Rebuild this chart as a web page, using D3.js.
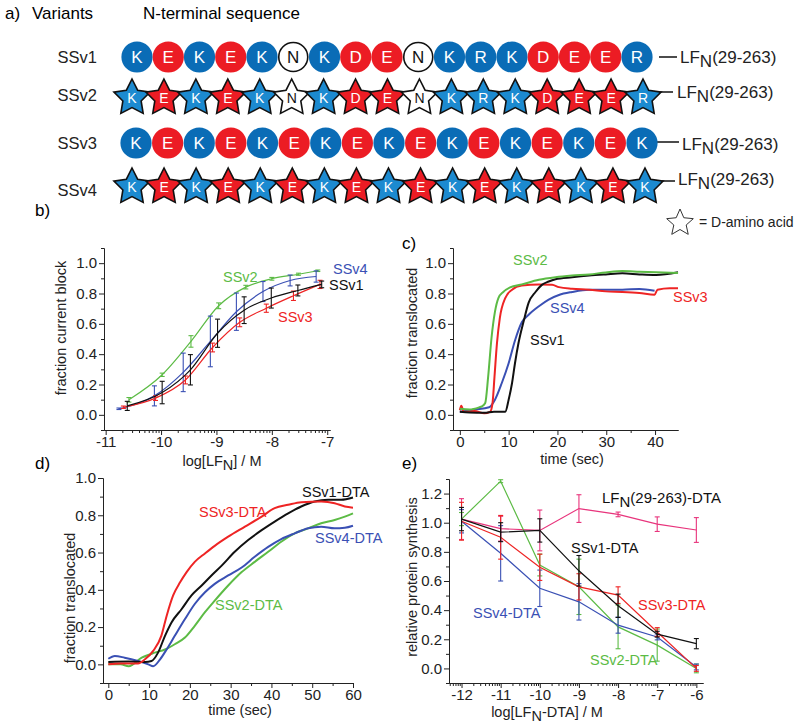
<!DOCTYPE html>
<html>
<head>
<meta charset="utf-8">
<script src="https://cdn.jsdelivr.net/npm/d3@7"></script>
<style>
  body { margin: 0; background: #fff; }
  svg { font-family: "Liberation Sans", Arial, Helvetica, sans-serif; }
</style>
</head>
<body>
<svg id="fig" width="800" height="724"></svg>
<script>
// ---------- panel a: sequences ----------
var seqSSv1 = ["K","E","K","E","K","N","K","D","E","N","K","R","K","D","E","E","R"];
var seqSSv2 = ["K","E","K","E","K","N","K","D","E","N","K","R","K","D","E","E","R"];
var seqSSv3 = ["K","E","K","E","K","E","K","E","K","E","K","E","K","E","K","E","K"];
var seqSSv4 = ["K","E","K","E","K","E","K","E","K","E","K","E","K","E","K","E","K"];
var variantNames = ["SSv1", "SSv2", "SSv3", "SSv4"];

// ---------- panel b: fraction current block vs log[LFN] ----------
var bSSv1X = [-10.61, -9.98, -9.47, -8.98, -8.5, -8.01, -7.53, -7.1];
var bSSv1Y = [0.059, 0.147, 0.297, 0.538, 0.69, 0.77, 0.82, 0.86];
var bSSv1E = [0.03, 0.074, 0.10, 0.093, 0.088, 0.066, 0.036, 0.022];
var bSSv2X = [-10.58, -9.98, -9.46, -8.96, -8.47, -8.0, -7.52, -7.17];
var bSSv2Y = [0.099, 0.264, 0.484, 0.719, 0.842, 0.897, 0.927, 0.95];
var bSSv2E = [0.015, 0.011, 0.038, 0.019, 0.012, 0.009, 0.007, 0.005];
var bSSv3X = [-10.68, -10.1, -9.56, -9.07, -8.58, -8.1, -7.61, -7.13];
var bSSv3Y = [0.05, 0.11, 0.23, 0.444, 0.61, 0.703, 0.785, 0.86];
var bSSv3E = [0.008, 0.015, 0.026, 0.029, 0.029, 0.027, 0.031, 0.027];
var bSSv4X = [-10.76, -10.12, -9.6, -9.11, -8.64, -8.16, -7.67, -7.2];
var bSSv4Y = [0.04, 0.125, 0.28, 0.484, 0.68, 0.813, 0.886, 0.912];
var bSSv4E = [0.005, 0.066, 0.127, 0.167, 0.123, 0.066, 0.036, 0.037];

// ---------- panel c: fraction translocated vs time [sec, value] ----------
var cSSv1 = [[0,0.02],[2,0.015],[5,0.013],[7,0.02],[9.3,0.02],[10,0.1],[10.7,0.21],[11.3,0.34],[12,0.47],[13.1,0.62],[14.1,0.74],[15.5,0.81],[16.8,0.857],[18.2,0.879],[19.6,0.894],[23,0.907],[26.5,0.918],[29.9,0.926],[33.3,0.933],[36.8,0.926],[40.2,0.922],[44.7,0.94]];
var cSSv2 = [[0,0.04],[2,0.035],[4,0.05],[4.5,0.056],[5.2,0.078],[5.8,0.25],[6.5,0.51],[7.2,0.68],[7.9,0.77],[8.9,0.81],[10.3,0.84],[12.7,0.86],[16.2,0.89],[19.6,0.907],[23,0.918],[26.5,0.926],[29.9,0.939],[33.3,0.948],[36.8,0.944],[40.2,0.94],[44.7,0.935]];
var cSSv3 = [[0,0.03],[0.3,0.06],[0.8,0.02],[3,0.025],[5,0.01],[6.2,0.02],[6.7,0.078],[7.1,0.25],[7.6,0.47],[8.2,0.64],[9.3,0.77],[10.7,0.825],[12.7,0.853],[16.2,0.86],[18.9,0.857],[20.3,0.842],[23,0.831],[26.5,0.825],[29.9,0.814],[33.3,0.81],[36.8,0.803],[39.9,0.792],[40.5,0.825],[43,0.835],[44.7,0.835]];
var cSSv4 = [[0,0.02],[3,0.035],[6,0.05],[7.2,0.1],[8.6,0.21],[10,0.34],[11.3,0.49],[12.7,0.61],[14.1,0.66],[16.2,0.716],[18.2,0.76],[20.3,0.79],[23,0.81],[26.5,0.825],[29.9,0.825],[33.3,0.825],[36.8,0.83],[39.9,0.818]];

// ---------- panel d: DTA fusions, fraction translocated vs time ----------
var dSSv1 = [[0,0.013],[5,0.015],[9,0.013],[10.6,0.018],[12.2,0.063],[13.9,0.153],[15.5,0.225],[18,0.297],[20.4,0.37],[22.9,0.423],[25.3,0.477],[27.8,0.53],[31,0.604],[34.3,0.667],[37.6,0.72],[40.8,0.766],[44.1,0.81],[47.3,0.847],[50.6,0.874],[53.9,0.883],[57.1,0.883],[60,0.895]];
var dSSv2 = [[0,0.0],[3,0.0],[5,-0.01],[8.2,0.036],[11.4,0.063],[13.9,0.08],[16.3,0.108],[18.8,0.144],[21.2,0.207],[23.7,0.28],[26.1,0.342],[29.4,0.423],[32.7,0.495],[35.9,0.55],[39.2,0.604],[42.4,0.658],[45.7,0.703],[49,0.73],[52.2,0.757],[55.5,0.775],[58,0.793],[60,0.81]];
var dSSv3 = [[0,0.0],[3,0.005],[7.3,0.005],[9,0.027],[11,0.072],[13,0.153],[14.3,0.26],[15.9,0.37],[17.6,0.44],[19.2,0.495],[21.2,0.55],[23.7,0.595],[26.1,0.636],[29.4,0.685],[33.5,0.739],[37.6,0.793],[40.8,0.838],[44.1,0.856],[47.3,0.87],[52.2,0.874],[55.5,0.865],[58,0.847],[60,0.841]];
var dSSv4 = [[0,0.03],[1.6,0.045],[4,0.036],[7.3,0.018],[9.8,0.0],[11,-0.01],[12.7,0.027],[14.3,0.08],[16.3,0.153],[18.8,0.243],[21.2,0.324],[23.7,0.387],[26.1,0.432],[29.4,0.477],[32.7,0.52],[35.9,0.577],[39.2,0.63],[42.4,0.672],[45.7,0.703],[49,0.73],[52.2,0.739],[55.5,0.73],[58,0.733],[60,0.744]];

// ---------- panel e: relative protein synthesis vs log[LFN-DTA] ----------
var eConc = [-12, -11, -10, -9, -8, -7, -6];
var eWildY = [1.025, 0.959, 0.947, 1.097, 1.057, 0.99, 0.95];
var eWildE = [0.14, 0.085, 0.14, 0.095, 0.016, 0.05, 0.085];
var eSSv1Y = [1.025, 0.935, 0.947, 0.67, 0.43, 0.235, 0.17];
var eSSv1E = [0.08, 0.065, 0.08, 0.105, 0.08, 0.02, 0.035];
var eSSv3Y = [1.01, 0.9, 0.694, 0.56, 0.503, 0.25, 0.0];
var eSSv3E = [0.13, 0.15, 0.09, 0.09, 0.057, 0.03, 0.02];
var eSSv2Y = [1.025, 1.285, 0.71, 0.56, 0.285, 0.16, 0.0];
var eSSv2E = [0.045, 0.01, 0.075, 0.19, 0.15, 0.11, 0.03];
var eSSv4Y = [1.01, 0.79, 0.55, 0.457, 0.297, 0.216, 0.01];
var eSSv4E = [0.08, 0.19, 0.125, 0.125, 0.055, 0.02, 0.02];

var COL = { black: "#111", green: "#5cbb45", red: "#ee2424", blue: "#3a50b4", pink: "#e8347c" };
var svg = d3.select("#fig");

// ================= panel a =================
var blueC = "#0a6cb6", blueS = "#1c8ad0", redC = "#ec1c24";
function resColor(r) {
  if (r === "K" || r === "R") return "b";
  if (r === "E" || r === "D") return "r";
  return "n";
}
function starPath(R, r) {
  var pts = [];
  for (var i = 0; i < 10; i++) {
    var a = -Math.PI / 2 + i * Math.PI / 5, rr = i % 2 ? r : R;
    pts.push([rr * Math.cos(a), rr * Math.sin(a)]);
  }
  return "M" + pts.map(function(p) { return p[0].toFixed(2) + "," + p[1].toFixed(2); }).join("L") + "Z";
}

svg.append("text").attr("x", 5).attr("y", 19).attr("font-size", 17).text("a)");
svg.append("text").attr("x", 32).attr("y", 19).attr("font-size", 17).text("Variants");
svg.append("text").attr("x", 143).attr("y", 19).attr("font-size", 17).text("N-terminal sequence");

var rows = [
  { name: variantNames[0], seq: seqSSv1, star: false, cy: 57, x0: 137, x1: 637, lineY: 57, lineX0: 659, lineX1: 677, tx: 680, ty: 63 },
  { name: variantNames[1], seq: seqSSv2, star: true,  cy: 98, x0: 132, x1: 643, lineY: 92, lineX0: 660, lineX1: 673, tx: 677, ty: 98 },
  { name: variantNames[2], seq: seqSSv3, star: false, cy: 143, x0: 136, x1: 642, lineY: 142, lineX0: 657, lineX1: 679, tx: 682, ty: 150 },
  { name: variantNames[3], seq: seqSSv4, star: true,  cy: 187, x0: 132, x1: 645, lineY: 181, lineX0: 662, lineX1: 675, tx: 678, ty: 185 }
];
var rowLabelY = [63, 101, 149, 196];

rows.forEach(function(row, ri) {
  var xs = d3.scalePoint().domain(d3.range(row.seq.length)).range([row.x0, row.x1]);
  svg.append("text").attr("x", 97).attr("y", rowLabelY[ri]).attr("text-anchor", "end")
    .attr("font-size", 16.5).attr("fill", "#222").text(row.name);

  svg.append("line").attr("x1", row.lineX0).attr("x2", row.lineX1)
    .attr("y1", row.lineY).attr("y2", row.lineY).attr("stroke", "#111").attr("stroke-width", 1.5);

  var g = svg.append("g").selectAll("g").data(row.seq).enter().append("g")
    .attr("transform", function(d, i) { return "translate(" + xs(i) + "," + row.cy + ")"; });
  if (row.star) {
    g.append("path").attr("d", starPath(19, 9.6))
      .attr("fill", function(d) { var c = resColor(d); return c === "b" ? blueS : c === "r" ? redC : "#fff"; })
      .attr("stroke", "#111").attr("stroke-width", 1.6).attr("stroke-linejoin", "miter");
    g.append("text").attr("y", 5).attr("text-anchor", "middle").attr("font-size", 14)
      .attr("fill", function(d) { return resColor(d) === "n" ? "#111" : "#fff"; }).text(function(d) { return d; });
  } else {
    g.append("circle").attr("r", function(d) { return resColor(d) === "n" ? 14.5 : 15.6; })
      .attr("fill", function(d) { var c = resColor(d); return c === "b" ? blueC : c === "r" ? redC : "#fff"; })
      .attr("stroke", function(d) { return resColor(d) === "n" ? "#111" : "none"; })
      .attr("stroke-width", 1.6);
    g.append("text").attr("y", 6).attr("text-anchor", "middle").attr("font-size", 17)
      .attr("fill", function(d) { return resColor(d) === "n" ? "#111" : "#fff"; }).text(function(d) { return d; });
  }

  var t = svg.append("text").attr("x", row.tx).attr("y", row.ty).attr("font-size", 17).attr("fill", "#222");
  t.append("tspan").text("LF");
  t.append("tspan").attr("dy", 4).text("N");
  t.append("tspan").attr("dy", -4).text("(29-263)");
});

// star legend
svg.append("path").attr("d", starPath(14, 6.5)).attr("transform", "translate(680,223)")
  .attr("fill", "none").attr("stroke", "#333").attr("stroke-width", 1);
svg.append("text").attr("x", 699).attr("y", 227).attr("font-size", 14).attr("fill", "#222").text("= D-amino acid");

// ================= shared axis helper =================
function fmtInt(d) { return String(d); }
function fmt1(d) { return d.toFixed(1); }

function makePanel(o) {
  var x = d3.scaleLinear().domain(o.xDomain).range(o.xRange);
  var y = d3.scaleLinear().domain(o.yDomain).range(o.yRange);
  var ax = svg.append("g");
  ax.append("g").attr("transform", "translate(0," + o.yRange[0] + ")")
    .call(d3.axisBottom(x).tickValues(o.xMinor).tickSize(3).tickSizeOuter(0).tickFormat(""));
  ax.append("g").attr("transform", "translate(0," + o.yRange[0] + ")")
    .call(d3.axisBottom(x).tickValues(o.xTicks).tickSize(5).tickPadding(1).tickSizeOuter(0).tickFormat(o.xFmt));
  ax.append("g").attr("transform", "translate(" + o.xRange[0] + ",0)")
    .call(d3.axisLeft(y).tickValues(o.yMinor).tickSize(3).tickSizeOuter(0).tickFormat(""));
  ax.append("g").attr("transform", "translate(" + o.xRange[0] + ",0)")
    .call(d3.axisLeft(y).tickValues(o.yTicks).tickSize(5).tickPadding(2).tickSizeOuter(0).tickFormat(fmt1));
  ax.selectAll("text").attr("font-size", 15).attr("font-family", null).attr("fill", "#222");
  ax.selectAll("path, line").attr("stroke", "#222").attr("stroke-width", 1);

  svg.append("text").attr("x", o.letter[0]).attr("y", o.letter[1]).attr("font-size", 17).text(o.letterText);
  svg.append("text").attr("transform", "translate(" + o.yTitle[0] + "," + o.yTitle[1] + ") rotate(-90)")
    .attr("text-anchor", "middle").attr("font-size", 14.5).attr("fill", "#222").text(o.yTitleText);
  var xt = svg.append("text").attr("x", o.xTitle[0]).attr("y", o.xTitle[1])
    .attr("text-anchor", "middle").attr("font-size", 14.5).attr("fill", "#222");
  o.xTitleParts.forEach(function(p) {
    var s = xt.append("tspan").text(p[0]);
    if (p[1]) s.attr("dy", p[1]);
  });
  return { x: x, y: y };
}

function logMinor(lo, hi) {
  var out = [];
  for (var n = Math.floor(lo); n < hi; n++) {
    for (var k = 2; k <= 9; k++) {
      var v = n + Math.log10(k);
      if (v > lo && v < hi) out.push(v);
    }
  }
  return out;
}
function addLabel(txt, x, y, color, size) {
  return svg.append("text").attr("x", x).attr("y", y).attr("font-size", size || 14.5)
    .attr("fill", color).text(txt);
}
function drawPoints(p, xs, ys, es, color, curve, width) {
  var pts = xs.map(function(d, i) { return [d, ys[i], es ? es[i] : 0]; });
  var line = d3.line().x(function(d) { return p.x(d[0]); }).y(function(d) { return p.y(d[1]); }).curve(curve);
  svg.append("path").datum(pts).attr("d", line).attr("fill", "none")
    .attr("stroke", color).attr("stroke-width", width);
  if (!es) return;
  var eb = svg.append("g").attr("stroke", color).attr("stroke-width", 1.1)
    .selectAll("g").data(pts).enter().append("g");
  eb.append("line").attr("x1", function(d) { return p.x(d[0]); }).attr("x2", function(d) { return p.x(d[0]); })
    .attr("y1", function(d) { return p.y(d[1] - d[2]); }).attr("y2", function(d) { return p.y(d[1] + d[2]); });
  [-1, 1].forEach(function(s) {
    eb.append("line").attr("x1", function(d) { return p.x(d[0]) - 2.5; }).attr("x2", function(d) { return p.x(d[0]) + 2.5; })
      .attr("y1", function(d) { return p.y(d[1] + s * d[2]); }).attr("y2", function(d) { return p.y(d[1] + s * d[2]); });
  });
}
function drawTrace(p, data, color) {
  var line = d3.line().x(function(d) { return p.x(d[0]); }).y(function(d) { return p.y(d[1]); }).curve(d3.curveMonotoneX);
  svg.append("path").datum(data).attr("d", line).attr("fill", "none")
    .attr("stroke", color).attr("stroke-width", 2).attr("stroke-linejoin", "round");
}

// ================= panel b =================
var pb = makePanel({
  xDomain: [-11.03, -6.95], xRange: [104, 330], yDomain: [-0.1, 1.1], yRange: [430, 248],
  xTicks: [-11, -10, -9, -8, -7], xMinor: logMinor(-11.03, -6.95), xFmt: fmtInt,
  yTicks: [0, 0.2, 0.4, 0.6, 0.8, 1.0], yMinor: [-0.1, 0.1, 0.3, 0.5, 0.7, 0.9, 1.1],
  letter: [35, 216], letterText: "b)",
  yTitle: [66, 328], yTitleText: "fraction current block",
  xTitle: [222, 466], xTitleParts: [["log[LF"], ["N", 4], ["] / M", -4]]
});
drawPoints(pb, bSSv2X, bSSv2Y, bSSv2E, COL.green, d3.curveMonotoneX, 1.2);
drawPoints(pb, bSSv4X, bSSv4Y, bSSv4E, COL.blue, d3.curveMonotoneX, 1.2);
drawPoints(pb, bSSv3X, bSSv3Y, bSSv3E, COL.red, d3.curveMonotoneX, 1.2);
drawPoints(pb, bSSv1X, bSSv1Y, bSSv1E, COL.black, d3.curveMonotoneX, 1.2);
addLabel("SSv2", 223, 282, COL.green);
addLabel("SSv4", 333, 274, COL.blue);
addLabel("SSv1", 329, 290, COL.black);
addLabel("SSv3", 278, 322, COL.red);

// ================= panel c =================
var pc = makePanel({
  xDomain: [-1.4, 44.7], xRange: [453, 678], yDomain: [-0.1, 1.1], yRange: [430, 248],
  xTicks: [0, 10, 20, 30, 40], xMinor: [5, 15, 25, 35], xFmt: fmtInt,
  yTicks: [0, 0.2, 0.4, 0.6, 0.8, 1.0], yMinor: [-0.1, 0.1, 0.3, 0.5, 0.7, 0.9, 1.1],
  letter: [402, 249], letterText: "c)",
  yTitle: [417, 333], yTitleText: "fraction translocated",
  xTitle: [572, 464], xTitleParts: [["time (sec)"]]
});
drawTrace(pc, cSSv4, COL.blue);
drawTrace(pc, cSSv3, COL.red);
drawTrace(pc, cSSv1, COL.black);
drawTrace(pc, cSSv2, COL.green);
addLabel("SSv2", 513, 265, COL.green);
addLabel("SSv3", 673, 302, COL.red);
addLabel("SSv4", 550, 313, COL.blue);
addLabel("SSv1", 530, 345, COL.black);

// ================= panel d =================
var pd = makePanel({
  xDomain: [-1.3, 60], xRange: [103, 353], yDomain: [-0.1, 1.0], yRange: [683, 478],
  xTicks: [0, 10, 20, 30, 40, 50, 60], xMinor: [5, 15, 25, 35, 45, 55], xFmt: fmtInt,
  yTicks: [0, 0.2, 0.4, 0.6, 0.8, 1.0], yMinor: [-0.1, 0.1, 0.3, 0.5, 0.7, 0.9],
  letter: [35, 469], letterText: "d)",
  yTitle: [75, 598], yTitleText: "fraction translocated",
  xTitle: [240, 715], xTitleParts: [["time (sec)"]]
});
drawTrace(pd, dSSv2, COL.green);
drawTrace(pd, dSSv4, COL.blue);
drawTrace(pd, dSSv1, COL.black);
drawTrace(pd, dSSv3, COL.red);
addLabel("SSv1-DTA", 302, 497, COL.black);
addLabel("SSv3-DTA", 199, 517, COL.red);
addLabel("SSv4-DTA", 315, 543, COL.blue);
addLabel("SSv2-DTA", 215, 610, COL.green);

// ================= panel e =================
var pe = makePanel({
  xDomain: [-12.32, -5.83], xRange: [449, 703], yDomain: [-0.1, 1.3], yRange: [683, 479],
  xTicks: [-12, -11, -10, -9, -8, -7, -6], xMinor: logMinor(-12.32, -5.83), xFmt: fmtInt,
  yTicks: [0, 0.2, 0.4, 0.6, 0.8, 1.0, 1.2], yMinor: [-0.1, 0.1, 0.3, 0.5, 0.7, 0.9, 1.1, 1.3],
  letter: [402, 469], letterText: "e)",
  yTitle: [417, 577], yTitleText: "relative protein synthesis",
  xTitle: [547, 717], xTitleParts: [["log[LF"], ["N", 4], ["-DTA] / M", -4]]
});
drawPoints(pe, eConc, eWildY, eWildE, COL.pink, d3.curveLinear, 1.2);
drawPoints(pe, eConc, eSSv2Y, eSSv2E, COL.green, d3.curveLinear, 1.2);
drawPoints(pe, eConc, eSSv4Y, eSSv4E, COL.blue, d3.curveLinear, 1.2);
drawPoints(pe, eConc, eSSv3Y, eSSv3E, COL.red, d3.curveLinear, 1.2);
drawPoints(pe, eConc, eSSv1Y, eSSv1E, COL.black, d3.curveLinear, 1.2);
var lt = addLabel("", 602, 503, COL.black, 15);
lt.append("tspan").text("LF");
lt.append("tspan").attr("dy", 4).text("N");
lt.append("tspan").attr("dy", -4).text("(29-263)-DTA");
addLabel("SSv1-DTA", 571, 553, COL.black);
addLabel("SSv3-DTA", 638, 610, COL.red);
addLabel("SSv4-DTA", 473, 618, COL.blue);
addLabel("SSv2-DTA", 590, 665, COL.green);
</script>
</body>
</html>
